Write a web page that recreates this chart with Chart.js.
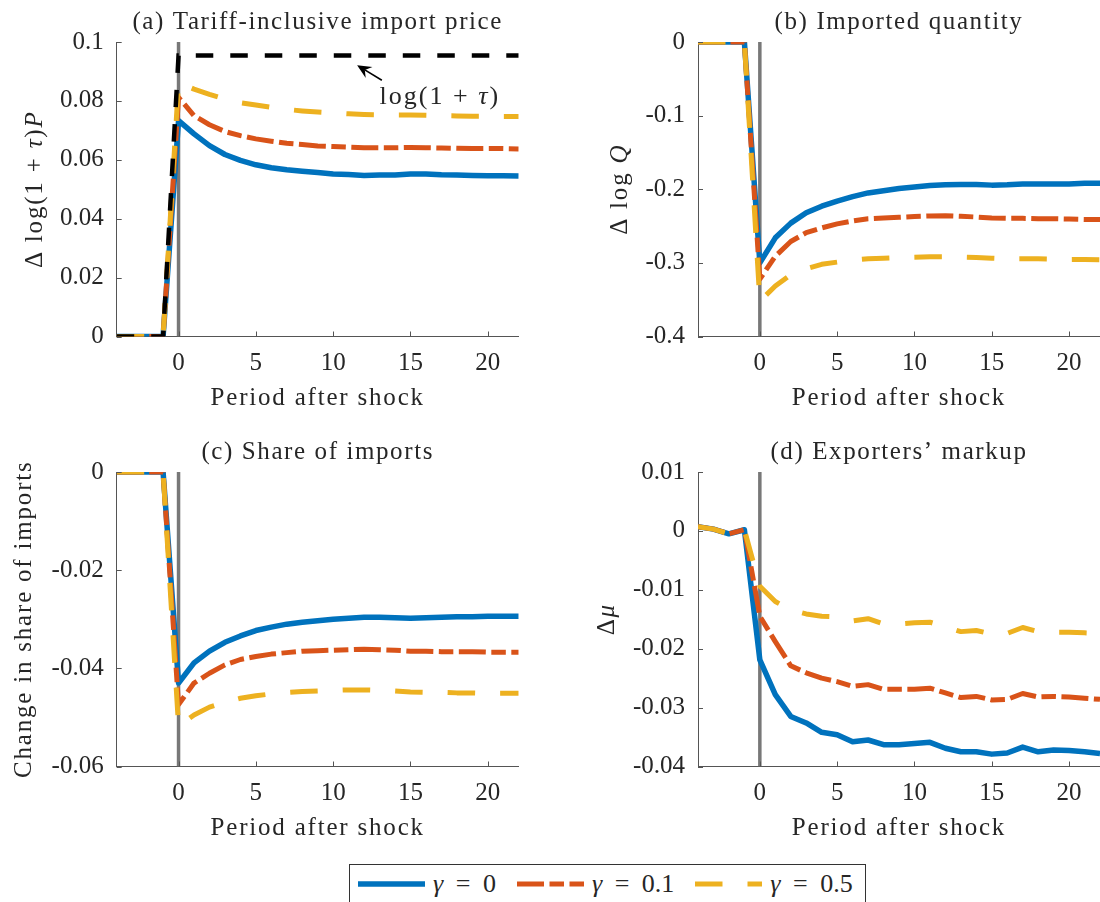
<!DOCTYPE html>
<html>
<head>
<meta charset="utf-8">
<title>Tariff shock responses</title>
<script src="https://cdn.jsdelivr.net/npm/chart.js@4.4.1/dist/chart.umd.min.js"></script>
<style>
  html, body { margin: 0; padding: 0; background: #fff; }
  body { width: 1100px; height: 902px; position: relative; overflow: hidden;
         font-family: "Liberation Serif", "Times New Roman", serif; color: #262626; }
  canvas { position: absolute; }
  #legend { position: absolute; left: 349px; top: 864px; width: 517px; height: 48px;
            box-sizing: border-box; border: 1px solid #333; background: #fff;
            display: flex; align-items: flex-start; padding: 5px 0 0 8px; }
  #legend .item { display: flex; align-items: center; margin-right: 21px;
                  font-size: 26px; white-space: nowrap; height: 28px; word-spacing: 6px; }
  #legend svg { margin-right: 8px; }
</style>
</head>
<body>
<canvas id="panelA" width="550" height="430" style="left:0;top:0"></canvas>
<canvas id="panelB" width="550" height="430" style="left:550px;top:0"></canvas>
<canvas id="panelC" width="550" height="430" style="left:0;top:430px"></canvas>
<canvas id="panelD" width="550" height="430" style="left:550px;top:430px"></canvas>
<div id="legend"></div>
<script>
// periods relative to the tariff shock
const periods = [-4, -3, -2, -1, 0, 1, 2, 3, 4, 5, 6, 7, 8, 9, 10, 11, 12, 13, 14, 15, 16, 17, 18, 19, 20, 21, 22];
const xTicks = [0, 5, 10, 15, 20];
const gammaLabels = ['0', '0.1', '0.5'];

// (a) tariff-inclusive import price
const priceG0  = [0, 0, 0, 0, 0.0733, 0.0688, 0.0648, 0.0618, 0.0598, 0.0583, 0.0573, 0.0566, 0.0561, 0.0557, 0.0552, 0.0550, 0.0547, 0.0548, 0.0548, 0.0552, 0.0552, 0.0549, 0.0548, 0.0547, 0.0546, 0.0546, 0.0545];
const priceG01 = [0, 0, 0, 0, 0.0812, 0.0750, 0.0719, 0.0696, 0.0682, 0.0671, 0.0663, 0.0656, 0.0652, 0.0647, 0.0645, 0.0643, 0.0641, 0.0641, 0.0641, 0.0642, 0.0641, 0.0640, 0.0639, 0.0638, 0.0638, 0.0638, 0.0637];
const priceG05 = [0, 0, 0, 0, 0.0862, 0.0840, 0.0822, 0.0806, 0.0794, 0.0786, 0.0778, 0.0771, 0.0766, 0.0762, 0.0759, 0.0756, 0.0754, 0.0753, 0.0752, 0.0752, 0.0751, 0.0750, 0.0749, 0.0748, 0.0748, 0.0747, 0.0747];
const tariffPath = [0, 0, 0, 0, 0.0954, 0.0954, 0.0954, 0.0954, 0.0954, 0.0954, 0.0954, 0.0954, 0.0954, 0.0954, 0.0954, 0.0954, 0.0954, 0.0954, 0.0954, 0.0954, 0.0954, 0.0954, 0.0954, 0.0954, 0.0954, 0.0954, 0.0954];
const priceTicks = [0, 0.02, 0.04, 0.06, 0.08, 0.1];

// (b) imported quantity
const qtyG0  = [0, 0, 0, 0, -0.300, -0.266, -0.246, -0.232, -0.223, -0.216, -0.210, -0.205, -0.202, -0.199, -0.197, -0.195, -0.194, -0.1935, -0.1935, -0.1944, -0.194, -0.193, -0.193, -0.193, -0.193, -0.192, -0.192];
const qtyG01 = [0, 0, 0, 0, -0.322, -0.291, -0.271, -0.259, -0.2525, -0.247, -0.243, -0.240, -0.239, -0.238, -0.237, -0.2363, -0.236, -0.2368, -0.2377, -0.239, -0.2395, -0.2395, -0.240, -0.240, -0.2405, -0.241, -0.241];
const qtyG05 = [0, 0, 0, 0, -0.352, -0.3315, -0.316, -0.308, -0.302, -0.299, -0.2963, -0.2945, -0.2936, -0.2927, -0.2922, -0.2918, -0.2918, -0.2922, -0.2927, -0.2936, -0.2945, -0.2945, -0.2945, -0.295, -0.2954, -0.2954, -0.2958];
const qtyTicks = [-0.4, -0.3, -0.2, -0.1, 0];

// (c) share of imports
const shareG0  = [0, 0, 0, 0, -0.0430, -0.0389, -0.0365, -0.0347, -0.0334, -0.0323, -0.0316, -0.0310, -0.0306, -0.0303, -0.0300, -0.0298, -0.0296, -0.0296, -0.0297, -0.0298, -0.0297, -0.0296, -0.0295, -0.0295, -0.0294, -0.0294, -0.0294];
const shareG01 = [0, 0, 0, 0, -0.0474, -0.0430, -0.0410, -0.0393, -0.0382, -0.0376, -0.0371, -0.0368, -0.0365, -0.0364, -0.0363, -0.0362, -0.0361, -0.0362, -0.0363, -0.0365, -0.0365, -0.0366, -0.0366, -0.0366, -0.0367, -0.0367, -0.0367];
const shareG05 = [0, 0, 0, 0, -0.0518, -0.0495, -0.0479, -0.0469, -0.0461, -0.0456, -0.0452, -0.0449, -0.0447, -0.0446, -0.0445, -0.0444, -0.0444, -0.0445, -0.0446, -0.0448, -0.0449, -0.0449, -0.0450, -0.0450, -0.0451, -0.0451, -0.0451];
const shareTicks = [-0.06, -0.04, -0.02, 0];

// (d) exporters' markup
const markupG0  = [0.0007, 0.0003, -0.0005, 0.0002, -0.0219, -0.0278, -0.0315, -0.0326, -0.0342, -0.0346, -0.0358, -0.0355, -0.0363, -0.0363, -0.0361, -0.0359, -0.0369, -0.0375, -0.0375, -0.0379, -0.0377, -0.0367, -0.0375, -0.0372, -0.0373, -0.0375, -0.0378];
const markupG01 = [0.0007, 0.0003, -0.0005, 0.0002, -0.0145, -0.0188, -0.0229, -0.0241, -0.0250, -0.0256, -0.0264, -0.0261, -0.0269, -0.0269, -0.0269, -0.0267, -0.0275, -0.0283, -0.0281, -0.0287, -0.0286, -0.0276, -0.0282, -0.0281, -0.0282, -0.0284, -0.0286];
const markupG05 = [0.0007, 0.0003, -0.0005, 0.0002, -0.0094, -0.0120, -0.0134, -0.0141, -0.0145, -0.0146, -0.0153, -0.0149, -0.0158, -0.0158, -0.0156, -0.0155, -0.0163, -0.0171, -0.0169, -0.0175, -0.0174, -0.0164, -0.0171, -0.0172, -0.0172, -0.0173, -0.0174];
const markupTicks = [-0.04, -0.03, -0.02, -0.01, 0, 0.01];

// line styles per gamma
const lineColors = ['#0072BD', '#D95319', '#EDB120'];
const lineDashes = [[], [27, 5.5, 14.5, 5.5], [27.5, 25]];
const lineWidths = [5.5, 5, 5];

const serif = '"Liberation Serif", "Times New Roman", serif';
const ink = '#262626';
const axisInk = '#555555';
Chart.defaults.font.family = serif;

function setFont(ctx, italic, size) {
  ctx.font = (italic ? 'italic ' : '') + size + 'px ' + serif;
}
function runWidth(ctx, parts, size) {
  let w = 0;
  parts.forEach(([t, it]) => { setFont(ctx, it, size); w += ctx.measureText(t).width; });
  return w;
}
// upright/italic pieces centred on (cx, cy), optionally rotated
function drawRun(ctx, parts, cx, cy, angle, size, spacing) {
  ctx.save();
  ctx.translate(cx, cy);
  ctx.rotate(angle);
  ctx.letterSpacing = spacing + 'px';
  ctx.fillStyle = ink;
  ctx.textBaseline = 'middle';
  ctx.textAlign = 'left';
  let x = -runWidth(ctx, parts, size) / 2;
  parts.forEach(([t, it]) => {
    setFont(ctx, it, size);
    ctx.fillText(t, x, 0);
    x += ctx.measureText(t).width;
  });
  ctx.restore();
}

// inward tick marks, titles, axis labels and the arrow note
const panelDecor = {
  id: 'panelDecor',
  afterDatasetsDraw(chart, args, opts) {
    const { ctx, chartArea: a, scales: { x, y } } = chart;
    ctx.save();
    ctx.strokeStyle = axisInk;
    ctx.lineWidth = 1;
    ctx.beginPath();
    x.ticks.forEach(t => {
      const px = Math.round(x.getPixelForValue(t.value)) + 0.5;
      ctx.moveTo(px, a.bottom); ctx.lineTo(px, a.bottom - 5);
    });
    y.ticks.forEach(t => {
      const py = Math.round(y.getPixelForValue(t.value)) + 0.5;
      ctx.moveTo(a.left, py); ctx.lineTo(a.left + 5, py);
    });
    ctx.stroke();
    ctx.restore();

    const mid = x.getPixelForValue((x.min + x.max) / 2);
    drawRun(ctx, [[opts.title, false]], mid, 22.5, 0, 25, 1.6);
    drawRun(ctx, [['Period after shock', false]], mid, 398, 0, 25, 1.8);
    drawRun(ctx, opts.yTitle, a.left - opts.yGap, (a.top + a.bottom) / 2, -Math.PI / 2, 25, 1.8);

    if (opts.note) {
      const n = opts.note;
      const tx = x.getPixelForValue(n.tail[0]), ty = y.getPixelForValue(n.tail[1]);
      const hx = x.getPixelForValue(n.head[0]), hy = y.getPixelForValue(n.head[1]);
      const ang = Math.atan2(hy - ty, hx - tx);
      ctx.save();
      ctx.strokeStyle = '#000';
      ctx.fillStyle = '#000';
      ctx.lineWidth = 1.6;
      ctx.beginPath();
      ctx.moveTo(tx, ty);
      ctx.lineTo(hx - 9 * Math.cos(ang), hy - 9 * Math.sin(ang));
      ctx.stroke();
      ctx.translate(hx, hy);
      ctx.rotate(ang);
      ctx.beginPath();
      ctx.moveTo(0, 0);
      ctx.lineTo(-14, -6.5);
      ctx.lineTo(-9, 0);
      ctx.lineTo(-14, 6.5);
      ctx.closePath();
      ctx.fill();
      ctx.restore();
      drawRun(ctx, n.text, x.getPixelForValue(n.at[0]), y.getPixelForValue(n.at[1]), 0, 26, 2);
    }
  }
};

function seriesSets(ys) {
  return ys.map((vals, i) => ({
    data: periods.map((p, k) => ({ x: p, y: vals[k] })),
    borderColor: lineColors[i],
    borderWidth: lineWidths[i],
    borderDash: lineDashes[i],
    borderCapStyle: 'butt',
    borderJoinStyle: 'round',
    pointRadius: 0,
    tension: 0,
    order: 5 - i
  }));
}
// grey marker at the shock period, spanning the y axis
function shockLine(lo, hi) {
  return {
    data: [{ x: 0, y: lo }, { x: 0, y: hi }],
    borderColor: '#787878', borderWidth: 3.5, pointRadius: 0, order: 10
  };
}
function tickText(v) {
  return Math.abs(v) < 1e-12 ? '0' : String(+v.toFixed(4));
}

function makePanel(cfg) {
  const datasets = seriesSets(cfg.series);
  if (cfg.extra) {
    datasets.push({
      data: periods.map((p, k) => ({ x: p, y: cfg.extra[k] })),
      borderColor: '#000', borderWidth: 4.5, borderDash: [17.5, 17],
      borderCapStyle: 'butt', pointRadius: 0, tension: 0, order: 1
    });
  }
  datasets.push(shockLine(cfg.yTicks[0], cfg.yTicks[cfg.yTicks.length - 1]));

  const tickFont = { family: serif, size: 25 };
  return new Chart(document.getElementById(cfg.id), {
    type: 'line',
    data: { datasets },
    options: {
      responsive: false,
      animation: false,
      devicePixelRatio: 1,
      events: [],
      layout: { padding: { left: 0, top: 42, right: cfg.padRight, bottom: 43.5 } },
      plugins: {
        legend: { display: false },
        tooltip: { enabled: false },
        panelDecor: { title: cfg.title, yTitle: cfg.yTitle, yGap: cfg.yGap, note: cfg.note }
      },
      scales: {
        x: {
          type: 'linear', min: -4, max: 22,
          grid: { display: false, drawTicks: false },
          border: { color: axisInk, width: 1 },
          ticks: { font: tickFont, color: ink, padding: 12, callback: tickText, maxRotation: 0, autoSkip: false },
          afterBuildTicks: s => { s.ticks = xTicks.map(v => ({ value: v })); },
          afterFit: s => { s.height = 50; }
        },
        y: {
          type: 'linear', min: cfg.yTicks[0], max: cfg.yTicks[cfg.yTicks.length - 1],
          grid: { display: false, drawTicks: false },
          border: { color: axisInk, width: 1 },
          ticks: { font: tickFont, color: ink, padding: 13, callback: tickText, autoSkip: false },
          afterBuildTicks: s => { s.ticks = cfg.yTicks.map(v => ({ value: v })); },
          afterFit: s => { s.width = cfg.axisLeft; }
        }
      }
    },
    plugins: [panelDecor]
  });
}

makePanel({
  id: 'panelA', title: '(a) Tariff-inclusive import price',
  yTitle: [['Δ log(1 + ', false], ['τ', true], [')', false], ['P', true]], yGap: 81,
  axisLeft: 116.7, padRight: 31.3, yTicks: priceTicks,
  series: [priceG0, priceG01, priceG05], extra: tariffPath,
  note: {
    text: [['log(1 + ', false], ['τ', true], [')', false]],
    tail: [13.15, 0.087], head: [11.55, 0.0921], at: [16.9, 0.0812]
  }
});
makePanel({
  id: 'panelB', title: '(b) Imported quantity',
  yTitle: [['Δ log ', false], ['Q', true]], yGap: 78,
  axisLeft: 148, padRight: 0, yTicks: qtyTicks,
  series: [qtyG0, qtyG01, qtyG05]
});
makePanel({
  id: 'panelC', title: '(c) Share of imports',
  yTitle: [['Change in share of imports', false]], yGap: 92,
  axisLeft: 116.7, padRight: 31.3, yTicks: shareTicks,
  series: [shareG0, shareG01, shareG05]
});
makePanel({
  id: 'panelD', title: '(d) Exporters’ markup',
  yTitle: [['Δ', false], ['μ', true]], yGap: 91,
  axisLeft: 148, padRight: 0, yTicks: markupTicks,
  series: [markupG0, markupG01, markupG05]
});

// shared legend
const legendBox = document.getElementById('legend');
gammaLabels.forEach((g, i) => {
  const item = document.createElement('div');
  item.className = 'item';
  const dash = lineDashes[i].length ? lineDashes[i].join(' ') : 'none';
  item.innerHTML =
    '<svg width="67" height="10"><line x1="0" y1="5" x2="67" y2="5" stroke="' + lineColors[i] +
    '" stroke-width="' + lineWidths[i] + '" stroke-dasharray="' + dash + '"/></svg>' +
    '<span><i>γ</i> = ' + g + '</span>';
  legendBox.appendChild(item);
});
</script>
</body>
</html>
